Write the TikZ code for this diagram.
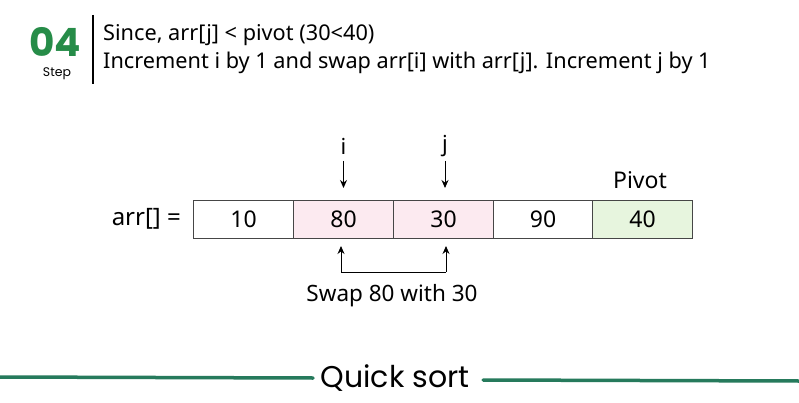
\documentclass[tikz,border=0pt]{standalone}
\usepackage{fontspec}
\setmainfont{Noto Sans}
\newfontfamily\popp{Poppins}
\usetikzlibrary{arrows.meta}
\definecolor{stepgreen}{RGB}{38,140,72}
\definecolor{linegreen}{RGB}{38,122,92}
\definecolor{pinkfill}{RGB}{252,234,240}
\definecolor{greenfill}{RGB}{231,245,222}
\definecolor{boxline}{RGB}{70,70,70}
\begin{document}
\begin{tikzpicture}[x=1pt,y=-1pt,
  cell/.style={draw=boxline,line width=0.8pt,minimum width=100pt,minimum height=38pt,inner sep=0pt,font=\fontsize{23}{25}\selectfont},
  ptr/.style={-{Stealth[length=8pt,width=7pt]},line width=1pt},
  lbl/.style={inner sep=0pt,font=\fontsize{22}{24}\selectfont}]
\useasboundingbox (0,0) rectangle (799,403);
\fill[white] (0,0) rectangle (799,403);
% header
\node[inner sep=0pt,anchor=base,text height=28pt,text depth=0pt,text=stepgreen,font=\popp\bfseries\fontsize{39}{30}\selectfont] (num) at (55,57) {04};
\node[inner sep=0pt,font=\popp\fontsize{12.5}{14}\selectfont] (step) at (57,74) {Step};
\draw[line width=1.2pt] (93,15) coordinate (vt) -- (93,84) coordinate (vb);
\node[anchor=base west,inner sep=0pt,font=\fontsize{21.7}{23}\selectfont] (l1) at (103,41) {Since, arr[j] < pivot (30<40)};
\node[anchor=base west,inner sep=0pt,font=\fontsize{21.7}{23}\selectfont] (l2) at (103,69) {Increment i by 1 and swap arr[i] with arr[j]. Increment j by 1};
% array
\node[anchor=east,inner sep=0pt,font=\fontsize{24}{26}\selectfont] (arr) at (181,219) {arr[] =};
\node[cell] (c1) at (243.5,219.5) {10};
\node[cell,fill=pinkfill] (c2) at (343.5,219.5) {80};
\node[cell,fill=pinkfill] (c3) at (443.5,219.5) {30};
\node[cell] (c4) at (543,219.5) {90};
\node[cell,fill=greenfill] (c5) at (642.5,219.5) {40};
\node[inner sep=0pt,font=\fontsize{23}{25}\selectfont] (pv) at (640,180) {Pivot};
% pointers
\node[lbl] (pi) at (343.5,146) {i};
\node[lbl] (pj) at (445,146) {j};
\draw[ptr] (343.5,161) -- (343.5,188);
\draw[ptr] (445,161) -- (445,188);
% swap
\coordinate (s1) at (341,272);
\coordinate (s2) at (446,272);
\draw[ptr] (s1) -- (341,246);
\draw[ptr] (s2) -- (446,246);
\draw[line width=1pt] (s1) -- (s2);
\node[inner sep=0pt,font=\fontsize{22.5}{24}\selectfont] (sw) at (392,296) {Swap 80 with 30};
% footer
\node[inner sep=0pt,font=\popp\fontsize{30}{32}\selectfont] (qs) at (395,378) {Quick sort};
\draw[linegreen,line width=3.5pt,line cap=round] (0,377) -- (313,378);
\draw[linegreen,line width=3.5pt,line cap=round] (483,380) -- (799,381);
\end{tikzpicture}
\end{document}
